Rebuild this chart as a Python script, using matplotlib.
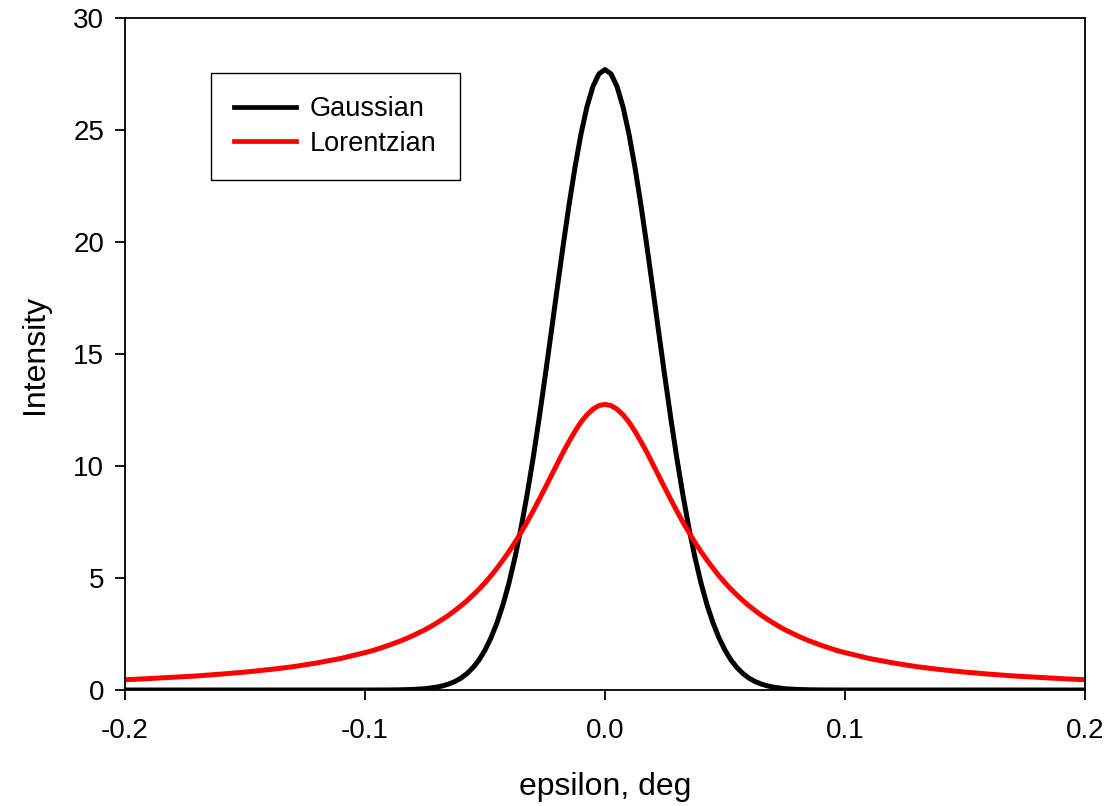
import matplotlib
matplotlib.use("Agg")
import matplotlib.pyplot as plt
import numpy as np

plt.rcParams['font.family'] = ['Liberation Sans', 'DejaVu Sans']
plt.rcParams['axes.unicode_minus'] = False

# values, right half (curves are symmetric about 0)
gauss_x = [0.0, 0.0025, 0.005, 0.0075, 0.01, 0.0125, 0.015, 0.0175, 0.02, 0.0225,
           0.025, 0.0275, 0.03, 0.0325, 0.035, 0.0375, 0.04, 0.0425, 0.045, 0.0475,
           0.05, 0.0525, 0.055, 0.0575, 0.06, 0.0625, 0.065, 0.0675, 0.07, 0.075,
           0.08, 0.085, 0.09, 0.1, 0.2]
gauss_y = [27.70, 27.51, 26.95, 26.04, 24.82, 23.33, 21.64, 19.79, 17.86, 15.89,
           13.95, 12.08, 10.31, 8.69, 7.22, 5.92, 4.78, 3.81, 3.00, 2.33,
           1.78, 1.34, 1.00, 0.735, 0.53, 0.38, 0.27, 0.19, 0.13, 0.058,
           0.025, 0.01, 0.004, 0.0, 0.0]

lorentz_x = [0.0, 0.0025, 0.005, 0.0075, 0.01, 0.0125, 0.015, 0.0175, 0.02, 0.0225,
             0.025, 0.0275, 0.03, 0.0325, 0.035, 0.0375, 0.04, 0.0425, 0.045, 0.0475,
             0.05, 0.0525, 0.055, 0.0575, 0.06, 0.0625, 0.065, 0.0675, 0.07, 0.0725,
             0.075, 0.0775, 0.08, 0.0825, 0.085, 0.0875, 0.09, 0.0925, 0.095, 0.0975,
             0.1, 0.11, 0.12, 0.13, 0.14, 0.15, 0.16, 0.17, 0.18, 0.19, 0.2]
lorentz_y = [12.75, 12.70, 12.54, 12.29, 11.96, 11.55, 11.09, 10.60, 10.07, 9.54,
             9.01, 8.49, 7.98, 7.49, 7.03, 6.59, 6.18, 5.80, 5.44, 5.10,
             4.79, 4.50, 4.24, 3.99, 3.76, 3.55, 3.35, 3.17, 3.00, 2.84,
             2.69, 2.56, 2.43, 2.31, 2.20, 2.10, 2.00, 1.91, 1.82, 1.74,
             1.67, 1.41, 1.21, 1.04, 0.91, 0.80, 0.71, 0.63, 0.57, 0.51, 0.46]

xticks = [-0.2, -0.1, 0.0, 0.1, 0.2]
xtick_labels = ['-0.2', '-0.1', '0.0', '0.1', '0.2']
yticks = [0, 5, 10, 15, 20, 25, 30]


def mirror(x, y):
    x = np.asarray(x)
    y = np.asarray(y)
    return (np.concatenate([-x[::-1], x[1:]]),
            np.concatenate([y[::-1], y[1:]]))


gx, gy = mirror(gauss_x, gauss_y)
lx, ly = mirror(lorentz_x, lorentz_y)

fig = plt.figure(figsize=(11.07, 8.06), dpi=100)
ax = fig.add_axes([0.1129, 0.1439, 0.8672, 0.8337])

ax.plot(gx, gy, color='black', lw=3.6, label='Gaussian', solid_joinstyle='round')
ax.plot(lx, ly, color='red', lw=3.6, label='Lorentzian', solid_joinstyle='round')

ax.set_xlim(-0.2, 0.2)
ax.set_ylim(0, 30)
ax.set_xticks(xticks)
ax.set_xticklabels(xtick_labels)
ax.set_yticks(yticks)

for s in ax.spines.values():
    s.set_linewidth(1.3)
ax.tick_params(direction='out', length=7, width=1.3, labelsize=20,
               top=False, right=False)
ax.tick_params(axis='x', pad=13)
ax.tick_params(axis='y', pad=8)

ax.set_xlabel('epsilon, deg', fontsize=23, labelpad=20)
ax.set_ylabel('Intensity', fontsize=23, labelpad=17)

leg = ax.legend(loc='upper left', bbox_to_anchor=(0.0896, 0.9177),
                fontsize=19.5, frameon=True, fancybox=False, framealpha=1,
                edgecolor='black', handlelength=2.3, handletextpad=0.5,
                borderpad=0.85, labelspacing=0.3, borderaxespad=0)
leg.get_frame().set_linewidth(1.0)
for h in leg.get_lines():
    h.set_linewidth(3.4)

fig.savefig('out.png', dpi=100)
